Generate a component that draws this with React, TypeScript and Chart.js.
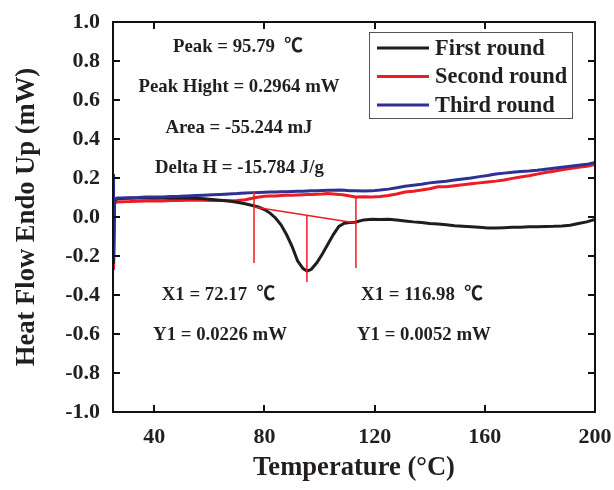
import React, { useEffect, useRef } from 'react';
import { Chart, registerables } from 'chart.js';

Chart.register(...registerables);

// ---- data ----
const temperature = [
  25, 25.2, 25.5, 26.5, 28, 31, 34, 37, 40, 43, 46, 49, 52, 55, 58, 61, 64, 67, 70, 73,
  76, 78, 80, 82, 84, 86, 88, 90, 92, 94, 95.5, 97, 99, 101, 103, 105, 107, 109, 111, 113,
  116, 119, 122, 125, 128, 131, 134, 137, 140, 143, 146, 149, 152, 155, 158, 161, 164, 167, 170, 173,
  176, 179, 182, 185, 188, 191, 194, 197, 200,
];

const firstRound = [
  0.0, -0.24, 0.085, 0.093, 0.095, 0.096, 0.097, 0.098, 0.097, 0.098, 0.099, 0.097, 0.098, 0.096, 0.093, 0.09, 0.086, 0.082, 0.076, 0.068,
  0.058, 0.05, 0.038, 0.02, -0.005, -0.04, -0.09, -0.15, -0.225, -0.265, -0.277, -0.268, -0.235, -0.19, -0.14, -0.09, -0.048, -0.032, -0.028, -0.027,
  -0.015, -0.012, -0.013, -0.012, -0.015, -0.02, -0.025, -0.028, -0.033, -0.036, -0.04, -0.045, -0.047, -0.05, -0.053, -0.056, -0.057, -0.055, -0.053, -0.052,
  -0.05, -0.05, -0.049, -0.048, -0.046, -0.042, -0.033, -0.025, -0.012,
];

const secondRound = [
  0.075, -0.27, 0.07, 0.077, 0.078, 0.079, 0.081, 0.082, 0.083, 0.082, 0.085, 0.084, 0.086, 0.087, 0.086, 0.085, 0.084, 0.083, 0.085, 0.088,
  0.097, 0.103, 0.106, 0.108, 0.108, 0.11, 0.111, 0.112, 0.113, 0.114, 0.115, 0.116, 0.117, 0.118, 0.12, 0.118, 0.116, 0.113, 0.108, 0.103,
  0.104, 0.103, 0.105, 0.11, 0.118, 0.128, 0.132, 0.138, 0.145, 0.155, 0.155, 0.16, 0.165, 0.17, 0.175, 0.18, 0.184, 0.19, 0.198, 0.205,
  0.212, 0.22, 0.228, 0.235, 0.242, 0.248, 0.255, 0.26, 0.27,
];

const thirdRound = [
  0.22, -0.215, 0.09, 0.097, 0.098, 0.099, 0.1, 0.102, 0.103, 0.102, 0.105, 0.106, 0.108, 0.11, 0.112, 0.114, 0.116, 0.118, 0.12, 0.123,
  0.125, 0.126, 0.127, 0.128, 0.128, 0.129, 0.13, 0.131, 0.132, 0.132, 0.133, 0.134, 0.135, 0.136, 0.137, 0.137, 0.138, 0.137, 0.135, 0.134,
  0.133, 0.134, 0.138, 0.143, 0.15, 0.158, 0.163, 0.168, 0.175, 0.18, 0.183, 0.19, 0.195, 0.2, 0.207, 0.213, 0.22, 0.225, 0.23, 0.233,
  0.236, 0.24, 0.245, 0.25, 0.255, 0.26, 0.265, 0.27, 0.28,
];

const seriesNames = ['First round', 'Second round', 'Third round'];

// peak-analysis marker lines (temperature, heat flow)
const baselineT = [76.2, 113.2];
const baselineV = [0.051, -0.031];
const onsetT = [76.2, 76.2];
const onsetV = [0.128, -0.236];
const peakT = [95.4, 95.4];
const peakV = [0.01, -0.333];
const endT = [113.2, 113.2];
const endV = [0.097, -0.262];

const xTickValues = [40, 80, 120, 160, 200];
const yTickValues = [-1, -0.8, -0.6, -0.4, -0.2, 0, 0.2, 0.4, 0.6, 0.8, 1];

// text notes (anchored in data units)
const noteTexts = [
  'Peak = 95.79  \u2103',
  'Peak Hight = 0.2964 mW',
  'Area = -55.244 mJ',
  'Delta H = -15.784 J/g',
  'X1 = 72.17  \u2103',
  'Y1 = 0.0226 mW',
  'X1 = 116.98  \u2103',
  'Y1 = 0.0052 mW',
];
const noteT = [70.4, 70.75, 70.75, 70.9, 63.3, 63.85, 137.2, 137.9];
const noteV = [0.873, 0.667, 0.456, 0.251, -0.4, -0.605, -0.4, -0.605];

// ---- styles ----
const SERIF = '"Liberation Serif", "Times New Roman", "Noto Sans CJK SC", serif';
const TEXT = '#231f20';
const BLACK = '#1e1e1e';
const RED = '#ed1c24';
const BLUE = '#2e3192';
const seriesColors = [BLACK, RED, BLUE];

const pts = (xs: number[], ys: number[]) => xs.map((x, i) => ({ x, y: ys[i] }));

const framePlugin = {
  id: 'frameAndNotes',
  afterDraw(chart: any) {
    const { ctx, chartArea: a, scales } = chart;
    const xs = scales.x;
    const ys = scales.y;
    ctx.save();
    // frame
    ctx.strokeStyle = '#111';
    ctx.lineWidth = 2;
    ctx.strokeRect(a.left, a.top, a.right - a.left, a.bottom - a.top);
    // inward ticks
    const tl = 7;
    ctx.beginPath();
    xTickValues.forEach((v) => {
      const px = Math.round(xs.getPixelForValue(v));
      ctx.moveTo(px, a.bottom);
      ctx.lineTo(px, a.bottom - tl);
      ctx.moveTo(px, a.top);
      ctx.lineTo(px, a.top + tl);
    });
    yTickValues.forEach((v) => {
      const py = Math.round(ys.getPixelForValue(v));
      ctx.moveTo(a.left, py);
      ctx.lineTo(a.left + tl, py);
      ctx.moveTo(a.right, py);
      ctx.lineTo(a.right - tl, py);
    });
    ctx.stroke();

    // notes
    ctx.fillStyle = TEXT;
    ctx.font = 'bold 18.8px ' + SERIF;
    ctx.textAlign = 'center';
    ctx.textBaseline = 'middle';
    noteTexts.forEach((t, i) => {
      ctx.fillText(t, xs.getPixelForValue(noteT[i]), ys.getPixelForValue(noteV[i]));
    });

    // legend
    const bx = a.right - 226;
    const by = a.top + 10;
    const bw = 203;
    const bh = 86;
    ctx.fillStyle = '#fff';
    ctx.fillRect(bx, by, bw, bh);
    ctx.strokeStyle = '#555';
    ctx.lineWidth = 1;
    ctx.strokeRect(bx + 0.5, by + 0.5, bw, bh);
    ctx.font = 'bold 22.4px ' + SERIF;
    ctx.textAlign = 'left';
    seriesNames.forEach((name, i) => {
      const ry = by + 16 + i * 28.5;
      ctx.strokeStyle = seriesColors[i];
      ctx.lineWidth = 3;
      ctx.beginPath();
      ctx.moveTo(bx + 8, ry);
      ctx.lineTo(bx + 60, ry);
      ctx.stroke();
      ctx.fillStyle = TEXT;
      ctx.fillText(name, bx + 66, ry + 1);
    });
    ctx.restore();
  },
};

export default function App() {
  const ref = useRef<HTMLCanvasElement | null>(null);

  useEffect(() => {
    if (!ref.current) return;
    const markerStyle = {
      borderColor: RED,
      borderWidth: 1.5,
      pointRadius: 0,
      fill: false,
      order: 0,
    };
    const chart = new Chart(ref.current, {
      type: 'line',
      data: {
        datasets: [
          { label: seriesNames[2], data: pts(temperature, thirdRound), borderColor: BLUE, borderWidth: 3, pointRadius: 0, order: 1 },
          { label: seriesNames[0], data: pts(temperature, firstRound), borderColor: BLACK, borderWidth: 3, pointRadius: 0, order: 2 },
          { label: seriesNames[1], data: pts(temperature, secondRound), borderColor: RED, borderWidth: 3, pointRadius: 0, order: 3 },
          { label: 'baseline', data: pts(baselineT, baselineV), ...markerStyle },
          { label: 'onset', data: pts(onsetT, onsetV), ...markerStyle },
          { label: 'peak', data: pts(peakT, peakV), ...markerStyle },
          { label: 'end', data: pts(endT, endV), ...markerStyle },
        ],
      },
      options: {
        animation: false,
        responsive: false,
        parsing: false as any,
        layout: { padding: { top: 22, right: 19, left: 0, bottom: 0 } },
        plugins: { legend: { display: false }, tooltip: { enabled: false } },
        scales: {
          x: {
            type: 'linear',
            min: 25,
            max: 200,
            afterBuildTicks: (s: any) => {
              s.ticks = xTickValues.map((v) => ({ value: v }));
            },
            afterFit: (s: any) => {
              s.height = 78;
              s.paddingLeft = 0;
              s.paddingRight = 0;
            },
            grid: { display: false, drawTicks: false },
            border: { display: false },
            ticks: {
              padding: 12,
              maxRotation: 0,
              color: TEXT,
              font: { family: SERIF, size: 22, weight: 'bold' },
            },
            title: {
              display: true,
              text: 'Temperature (\u00B0C)',
              color: TEXT,
              font: { family: SERIF, size: 26.6, weight: 'bold' },
              padding: { top: 0, bottom: 6 },
            },
          },
          y: {
            type: 'linear',
            min: -1,
            max: 1,
            afterBuildTicks: (s: any) => {
              s.ticks = yTickValues.map((v) => ({ value: v }));
            },
            afterFit: (s: any) => {
              s.width = 113;
              s.paddingTop = 0;
              s.paddingBottom = 0;
            },
            grid: { display: false, drawTicks: false },
            border: { display: false },
            ticks: {
              padding: 13,
              color: TEXT,
              font: { family: SERIF, size: 22, weight: 'bold' },
              callback: (v: any) => (Math.abs(Number(v)) < 1e-9 ? '0.0' : Number(v).toFixed(1)),
            },
            title: {
              display: true,
              text: 'Heat Flow Endo Up (mW)',
              color: TEXT,
              font: { family: SERIF, size: 26.6, weight: 'bold' },
              padding: { top: 11, bottom: 0 },
            },
          },
        },
      } as any,
      plugins: [framePlugin],
    });
    return () => chart.destroy();
  }, []);

  return (
    <div style={{ position: 'absolute', left: 0, top: 0, width: 614, height: 490, background: '#fff' }}>
      <canvas ref={ref} width={614} height={490} style={{ display: 'block' }} />
    </div>
  );
}
